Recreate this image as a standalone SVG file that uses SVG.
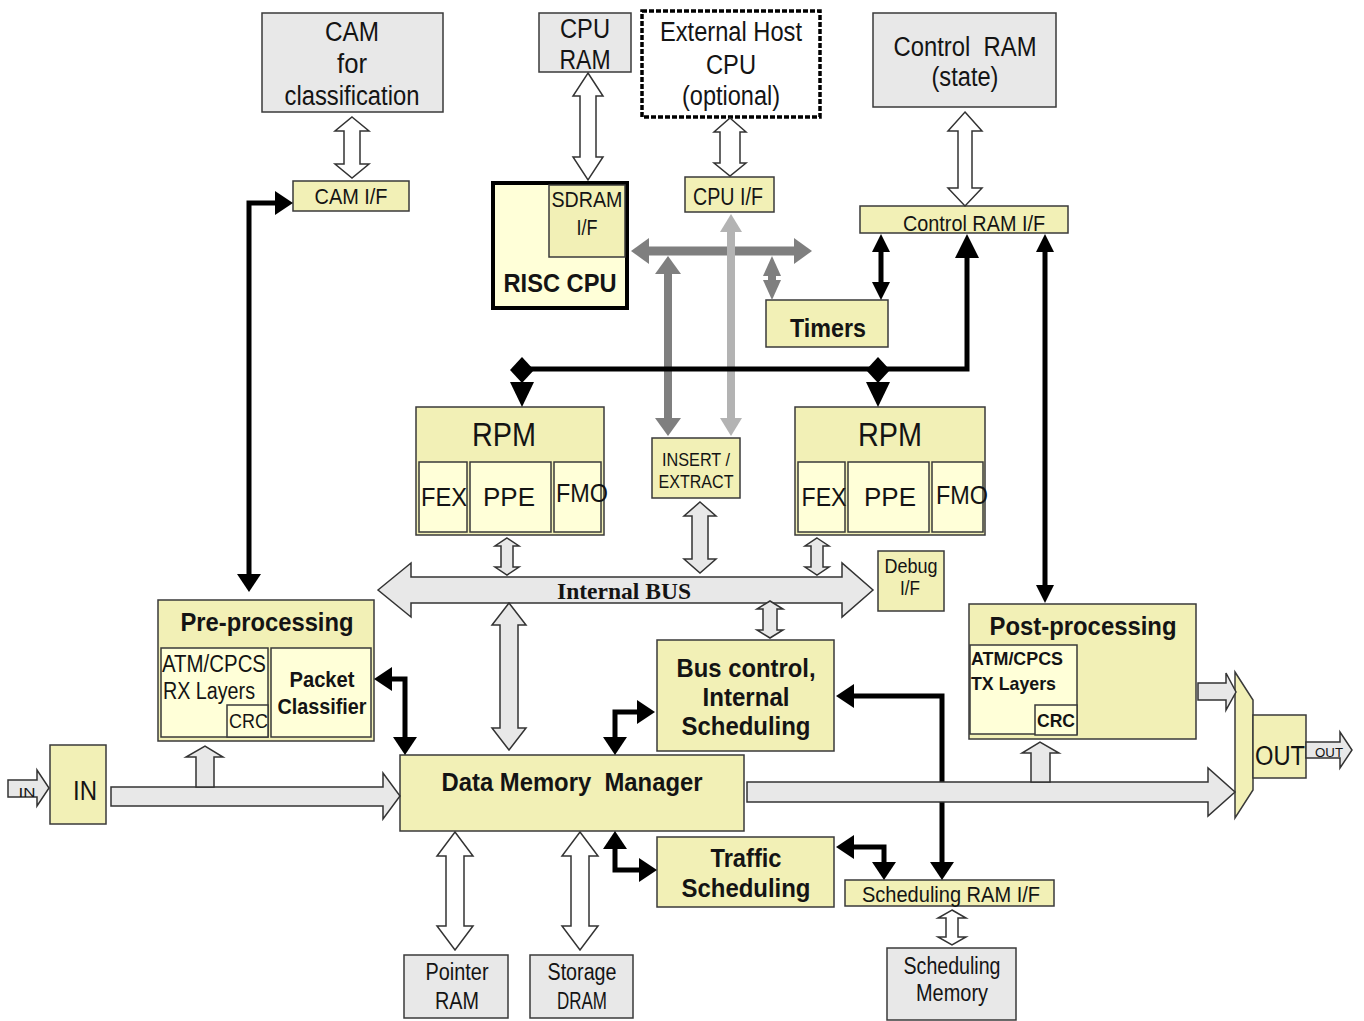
<svg xmlns="http://www.w3.org/2000/svg" width="1364" height="1021" viewBox="0 0 1364 1021">
  <style>
    .y { fill: #f2f0b6; stroke: #3a3a3a; stroke-width: 1.5; }
    .ly { fill: #ffffd8; stroke: #3a3a3a; stroke-width: 1.5; }
    .g { fill: #e8e8e8; stroke: #3a3a3a; stroke-width: 1.5; }
    .t { font-family: "Liberation Sans", Arial, sans-serif; fill: #141414; text-anchor: middle; }
    .s { text-anchor: start; }
    .b { font-weight: bold; }
    .ser { font-family: "Liberation Serif", "Times New Roman", serif; font-weight: bold; fill: #141414; text-anchor: middle; }
    .ho { fill: #ffffff; stroke: #333333; stroke-width: 1.5; }
    .hg { fill: #e8e8e8; stroke: #333333; stroke-width: 1.5; }
    .k { fill: none; stroke: #000000; stroke-width: 5; }
    .kf { fill: #000000; }
  </style>
  <defs>
    <marker id="ak" markerUnits="userSpaceOnUse" markerWidth="18" markerHeight="24" viewBox="0 0 18 24" refX="0" refY="12" orient="auto-start-reverse">
      <path d="M0,0 L18,12 L0,24 z" fill="#000"/>
    </marker>
    <marker id="aks" markerUnits="userSpaceOnUse" markerWidth="18" markerHeight="18" viewBox="0 0 18 18" refX="0" refY="9" orient="auto-start-reverse">
      <path d="M0,0 L18,9 L0,18 z" fill="#000"/>
    </marker>
    <marker id="akb" markerUnits="userSpaceOnUse" markerWidth="24" markerHeight="24" viewBox="0 0 24 24" refX="0" refY="12" orient="auto-start-reverse">
      <path d="M0,0 L24,12 L0,24 z" fill="#000"/>
    </marker>
    <marker id="ag" markerUnits="userSpaceOnUse" markerWidth="18" markerHeight="26" viewBox="0 0 18 26" refX="0" refY="13" orient="auto-start-reverse">
      <path d="M0,0 L18,13 L0,26 z" fill="#7f7f7f"/>
    </marker>
    <marker id="ags" markerUnits="userSpaceOnUse" markerWidth="20" markerHeight="18" viewBox="0 0 20 18" refX="0" refY="9" orient="auto-start-reverse">
      <path d="M0,0 L20,9 L0,18 z" fill="#7f7f7f"/>
    </marker>
    <marker id="agl" markerUnits="userSpaceOnUse" markerWidth="18" markerHeight="22" viewBox="0 0 18 22" refX="0" refY="11" orient="auto-start-reverse">
      <path d="M0,0 L18,11 L0,22 z" fill="#b3b3b3"/>
    </marker>
  </defs>

  <rect width="1364" height="1021" fill="#ffffff"/>

  <!-- memories and external parts -->
  <g id="cam">
    <rect class="g" x="262" y="13" width="181" height="99"/>
    <text class="t" x="352" y="41" font-size="27" textLength="54" lengthAdjust="spacingAndGlyphs">CAM</text>
    <text class="t" x="352" y="73" font-size="27" textLength="30" lengthAdjust="spacingAndGlyphs">for</text>
    <text class="t" x="352" y="105" font-size="27" textLength="135" lengthAdjust="spacingAndGlyphs">classification</text>
  </g>
  <g id="cpu-ram">
    <rect class="g" x="539" y="13" width="92" height="59"/>
    <text class="t" x="585" y="38" font-size="27" textLength="50" lengthAdjust="spacingAndGlyphs">CPU</text>
    <text class="t" x="585" y="69" font-size="27" textLength="51" lengthAdjust="spacingAndGlyphs">RAM</text>
  </g>
  <g id="external-host">
    <rect x="642" y="11" width="178" height="106" fill="#ffffff" stroke="#000" stroke-width="3.5" stroke-dasharray="5 2"/>
    <text class="t" x="731" y="41" font-size="27" textLength="142" lengthAdjust="spacingAndGlyphs">External Host</text>
    <text class="t" x="731" y="74" font-size="27" textLength="50" lengthAdjust="spacingAndGlyphs">CPU</text>
    <text class="t" x="731" y="105" font-size="27" textLength="98" lengthAdjust="spacingAndGlyphs">(optional)</text>
  </g>
  <g id="control-ram">
    <rect class="g" x="873" y="13" width="183" height="94"/>
    <text class="t" x="965" y="56" font-size="27" textLength="143" lengthAdjust="spacingAndGlyphs" xml:space="preserve">Control  RAM</text>
    <text class="t" x="965" y="86" font-size="27" textLength="67" lengthAdjust="spacingAndGlyphs">(state)</text>
  </g>

  <!-- interfaces -->
  <g id="cam-if">
    <rect class="y" x="293" y="181" width="116" height="30"/>
    <text class="t" x="351" y="204" font-size="22" textLength="73" lengthAdjust="spacingAndGlyphs">CAM I/F</text>
  </g>
  <g id="risc-cpu">
    <rect x="493" y="183" width="134" height="125" fill="#ffffd8" stroke="#000" stroke-width="4"/>
    <rect class="y" x="549" y="185" width="76" height="72"/>
    <text class="t" x="587" y="207" font-size="22" textLength="71" lengthAdjust="spacingAndGlyphs">SDRAM</text>
    <text class="t" x="587" y="235" font-size="22" textLength="21" lengthAdjust="spacingAndGlyphs">I/F</text>
    <text class="t b" x="560" y="292" font-size="26" textLength="113" lengthAdjust="spacingAndGlyphs">RISC CPU</text>
  </g>
  <g id="cpu-if">
    <rect class="y" x="685" y="177" width="89" height="35"/>
    <text class="t" x="728" y="205" font-size="23" textLength="70" lengthAdjust="spacingAndGlyphs">CPU I/F</text>
  </g>
  <g id="control-ram-if">
    <rect class="y" x="860" y="206" width="208" height="27"/>
    <text class="t" x="974" y="231" font-size="22" textLength="142" lengthAdjust="spacingAndGlyphs">Control RAM I/F</text>
  </g>
  <g id="timers">
    <rect class="y" x="766" y="300" width="122" height="47"/>
    <text class="t b" x="828" y="337" font-size="26" textLength="76" lengthAdjust="spacingAndGlyphs">Timers</text>
  </g>

  <!-- packet processors -->
  <g id="rpm-left">
    <rect class="y" x="416" y="407" width="188" height="128"/>
    <rect class="ly" x="419" y="462" width="48" height="70"/>
    <rect class="ly" x="470" y="462" width="81" height="70"/>
    <rect class="ly" x="554" y="462" width="47" height="70"/>
    <text class="t" x="504" y="446" font-size="33" textLength="64" lengthAdjust="spacingAndGlyphs">RPM</text>
    <text class="t" x="444" y="506" font-size="26" textLength="46" lengthAdjust="spacingAndGlyphs">FEX</text>
    <text class="t" x="509" y="506" font-size="26" textLength="52" lengthAdjust="spacingAndGlyphs">PPE</text>
    <text class="t s" x="556" y="502" font-size="26" textLength="52" lengthAdjust="spacingAndGlyphs">FMO</text>
  </g>
  <g id="rpm-right">
    <rect class="y" x="795" y="407" width="190" height="128"/>
    <rect class="ly" x="798" y="462" width="47" height="70"/>
    <rect class="ly" x="848" y="462" width="81" height="70"/>
    <rect class="ly" x="932" y="462" width="51" height="70"/>
    <text class="t" x="890" y="446" font-size="33" textLength="64" lengthAdjust="spacingAndGlyphs">RPM</text>
    <text class="t" x="824" y="506" font-size="26" textLength="45" lengthAdjust="spacingAndGlyphs">FEX</text>
    <text class="t" x="890" y="506" font-size="26" textLength="52" lengthAdjust="spacingAndGlyphs">PPE</text>
    <text class="t s" x="936" y="504" font-size="26" textLength="52" lengthAdjust="spacingAndGlyphs">FMO</text>
  </g>
  <g id="insert-extract">
    <rect class="y" x="652" y="438" width="88" height="60"/>
    <text class="t" x="696" y="466" font-size="18" textLength="68" lengthAdjust="spacingAndGlyphs">INSERT /</text>
    <text class="t" x="696" y="488" font-size="18" textLength="75" lengthAdjust="spacingAndGlyphs">EXTRACT</text>
  </g>
  <g id="debug-if">
    <rect class="y" x="878" y="551" width="66" height="60"/>
    <text class="t" x="911" y="573" font-size="20" textLength="53" lengthAdjust="spacingAndGlyphs">Debug</text>
    <text class="t" x="910" y="595" font-size="20" textLength="20" lengthAdjust="spacingAndGlyphs">I/F</text>
  </g>

  <!-- input / output path -->
  <g id="pre-processing">
    <rect class="y" x="158" y="600" width="216" height="141"/>
    <rect class="ly" x="161" y="648" width="107" height="89"/>
    <rect class="ly" x="227" y="705" width="41" height="32"/>
    <rect class="ly" x="271" y="648" width="100" height="89"/>
    <text class="t b" x="267" y="631" font-size="26" textLength="173" lengthAdjust="spacingAndGlyphs">Pre-processing</text>
    <text class="t s" x="162" y="672" font-size="23" textLength="104" lengthAdjust="spacingAndGlyphs">ATM/CPCS</text>
    <text class="t s" x="163" y="699" font-size="23" textLength="92" lengthAdjust="spacingAndGlyphs">RX Layers</text>
    <text class="t s" x="229" y="728" font-size="20" textLength="39" lengthAdjust="spacingAndGlyphs">CRC</text>
    <text class="t b" x="322" y="687" font-size="22" textLength="65" lengthAdjust="spacingAndGlyphs">Packet</text>
    <text class="t b" x="322" y="714" font-size="22" textLength="89" lengthAdjust="spacingAndGlyphs">Classifier</text>
  </g>
  <g id="post-processing">
    <rect class="y" x="969" y="604" width="227" height="135"/>
    <rect class="ly" x="970" y="645" width="107" height="89"/>
    <rect class="ly" x="1035" y="705" width="42" height="30"/>
    <text class="t b" x="1083" y="635" font-size="26" textLength="187" lengthAdjust="spacingAndGlyphs">Post-processing</text>
    <text class="t s b" x="971" y="665" font-size="19" textLength="92" lengthAdjust="spacingAndGlyphs">ATM/CPCS</text>
    <text class="t s b" x="971" y="690" font-size="19" textLength="85" lengthAdjust="spacingAndGlyphs">TX Layers</text>
    <text class="t s b" x="1037" y="727" font-size="19" textLength="38" lengthAdjust="spacingAndGlyphs">CRC</text>
  </g>
  <g id="in">
    <rect class="y" x="50" y="745" width="56" height="79"/>
    <text class="t" x="85" y="800" font-size="27" textLength="24" lengthAdjust="spacingAndGlyphs">IN</text>
  </g>
  <g id="data-memory-manager">
    <rect class="y" x="400" y="755" width="344" height="76"/>
    <text class="t b" x="572" y="791" font-size="26" textLength="261" lengthAdjust="spacingAndGlyphs" xml:space="preserve">Data Memory  Manager</text>
  </g>
  <g id="bus-control">
    <rect class="y" x="657" y="640" width="177" height="111"/>
    <text class="t b" x="746" y="677" font-size="26" textLength="139" lengthAdjust="spacingAndGlyphs">Bus control,</text>
    <text class="t b" x="746" y="706" font-size="26" textLength="87" lengthAdjust="spacingAndGlyphs">Internal</text>
    <text class="t b" x="746" y="735" font-size="26" textLength="129" lengthAdjust="spacingAndGlyphs">Scheduling</text>
  </g>
  <g id="traffic-scheduling">
    <rect class="y" x="657" y="837" width="177" height="70"/>
    <text class="t b" x="746" y="867" font-size="26" textLength="71" lengthAdjust="spacingAndGlyphs">Traffic</text>
    <text class="t b" x="746" y="897" font-size="26" textLength="129" lengthAdjust="spacingAndGlyphs">Scheduling</text>
  </g>
  <g id="scheduling-ram-if">
    <rect class="y" x="845" y="880" width="209" height="26"/>
    <text class="t" x="951" y="902" font-size="22" textLength="178" lengthAdjust="spacingAndGlyphs">Scheduling RAM I/F</text>
  </g>
  <g id="pointer-ram">
    <rect class="g" x="404" y="955" width="104" height="63"/>
    <text class="t" x="457" y="980" font-size="23" textLength="63" lengthAdjust="spacingAndGlyphs">Pointer</text>
    <text class="t" x="457" y="1009" font-size="23" textLength="44" lengthAdjust="spacingAndGlyphs">RAM</text>
  </g>
  <g id="storage-dram">
    <rect class="g" x="530" y="955" width="103" height="63"/>
    <text class="t" x="582" y="980" font-size="23" textLength="69" lengthAdjust="spacingAndGlyphs">Storage</text>
    <text class="t" x="582" y="1009" font-size="23" textLength="50" lengthAdjust="spacingAndGlyphs">DRAM</text>
  </g>
  <g id="scheduling-memory">
    <rect class="g" x="887" y="948" width="129" height="72"/>
    <text class="t" x="952" y="974" font-size="23" textLength="97" lengthAdjust="spacingAndGlyphs">Scheduling</text>
    <text class="t" x="952" y="1001" font-size="23" textLength="72" lengthAdjust="spacingAndGlyphs">Memory</text>
  </g>
  <g id="output-mux">
    <polygon class="y" points="1235,672 1253,700 1253,790 1235,818"/>
  </g>
  <g id="out">
    <rect class="y" x="1253" y="715" width="53" height="63"/>
    <text class="t" x="1280" y="765" font-size="27" textLength="50" lengthAdjust="spacingAndGlyphs">OUT</text>
  </g>

  <g id="connectors">
    <!-- control line from the scheduling RAM interface to bus control (runs under the data path) -->
    <path class="k" d="M854,696 H942 V862" marker-start="url(#ak)" marker-end="url(#ak)"/>

    <!-- main data path -->
    <polygon class="hg" points="8,780 37,780 37,770 49,788 37,806 37,797 8,797"/>
    <text class="t" x="27" y="797" font-size="13" textLength="17" lengthAdjust="spacingAndGlyphs">IN</text>
    <polygon class="hg" points="111,787 383,787 383,773 400,796 383,819 383,806 111,806"/>
    <polygon class="hg" points="196,787 196,757 186,757 205,746 223,757 214,757 214,787"/>
    <polygon class="hg" points="747,782 1208,782 1208,768 1235,792 1208,816 1208,802 747,802"/>
    <polygon class="hg" points="1031,782 1031,753 1022,753 1040,742 1059,753 1050,753 1050,782"/>
    <polygon class="hg" points="1198,683 1226,683 1226,673 1236,692 1226,710 1226,700 1198,700"/>
    <polygon class="hg" points="1306,742 1340,742 1340,732 1352,750 1340,768 1340,758 1306,758"/>
    <text class="t" x="1329" y="757" font-size="12" textLength="28" lengthAdjust="spacingAndGlyphs">OUT</text>

    <!-- internal bus -->
    <polygon class="hg" points="378,590 411,563 411,577 842,577 842,563 873,590 842,617 842,603 411,603 411,617"/>
    <text class="ser" x="624" y="599" font-size="24" textLength="134" lengthAdjust="spacingAndGlyphs">Internal BUS</text>

    <!-- hollow double arrows to memories -->
    <polygon class="ho" points="352,117 369,131 360,131 360,164 369,164 352,178 335,164 344,164 344,131 335,131"/>
    <polygon class="ho" points="588,73 603,96 596,96 596,157 603,157 588,180 573,157 580,157 580,96 573,96"/>
    <polygon class="ho" points="730,118 746,132 740,132 740,163 746,163 730,176 714,163 720,163 720,132 714,132"/>
    <polygon class="ho" points="965,112 982,131 972,131 972,188 982,188 965,206 948,188 958,188 958,131 948,131"/>
    <polygon class="ho" points="455,832 473,856 464,856 464,926 473,926 455,950 437,926 446,926 446,856 437,856"/>
    <polygon class="ho" points="580,832 598,856 589,856 589,926 598,926 580,950 562,926 571,926 571,856 562,856"/>
    <polygon class="ho" points="952,910 966,918 958,918 958,937 966,937 952,945 938,937 946,937 946,918 938,918"/>

    <!-- bus attachments -->
    <polygon class="hg" points="507,538 519,546 513,546 513,567 519,567 507,575 495,567 501,567 501,546 495,546"/>
    <polygon class="hg" points="817,538 829,546 823,546 823,567 829,567 817,575 805,567 811,567 811,546 805,546"/>
    <polygon class="hg" points="700,502 716,516 708,516 708,559 716,559 700,573 684,559 692,559 692,516 684,516"/>
    <polygon class="hg" points="509,603 526,625 518,625 518,728 526,728 509,750 492,728 500,728 500,625 492,625"/>
    <polygon class="hg" points="770,601 783,609 777,609 777,630 783,630 770,638 757,630 763,630 763,609 757,609"/>

    <!-- processor bus around the RISC CPU -->
    <path d="M649,251 H794" fill="none" stroke="#7f7f7f" stroke-width="9" marker-start="url(#ag)" marker-end="url(#ag)"/>
    <path d="M668,274 V418" fill="none" stroke="#7f7f7f" stroke-width="8" marker-start="url(#ag)" marker-end="url(#ag)"/>
    <path d="M772,276 V280" fill="none" stroke="#7f7f7f" stroke-width="8" marker-start="url(#ags)" marker-end="url(#ags)"/>
    <path d="M731,232 V418" fill="none" stroke="#b3b3b3" stroke-width="8" marker-start="url(#agl)" marker-end="url(#agl)"/>

    <!-- control connections -->
    <path class="k" d="M249,574 V203 H275" marker-start="url(#ak)" marker-end="url(#ak)"/>
    <path class="k" d="M522,369 H967 V258" stroke-width="6" marker-end="url(#akb)"/>
    <polygon class="kf" points="522,357 534,370 522,383 510,370"/>
    <polygon class="kf" points="510,382 534,382 522,407"/>
    <polygon class="kf" points="878,357 890,370 878,383 866,370"/>
    <polygon class="kf" points="866,382 890,382 878,407"/>
    <path class="k" d="M881,252 V282" marker-start="url(#aks)" marker-end="url(#aks)"/>
    <path class="k" d="M1045,252 V585" marker-start="url(#aks)" marker-end="url(#aks)"/>
    <path class="k" d="M392,679 H405 V737" marker-start="url(#ak)" marker-end="url(#ak)"/>
    <path class="k" d="M615,737 V712 H637" marker-start="url(#ak)" marker-end="url(#ak)"/>
    <path class="k" d="M615,849 V870 H639" marker-start="url(#ak)" marker-end="url(#ak)"/>
    <path class="k" d="M854,847 H884 V862" marker-start="url(#ak)" marker-end="url(#ak)"/>
  </g>
</svg>
